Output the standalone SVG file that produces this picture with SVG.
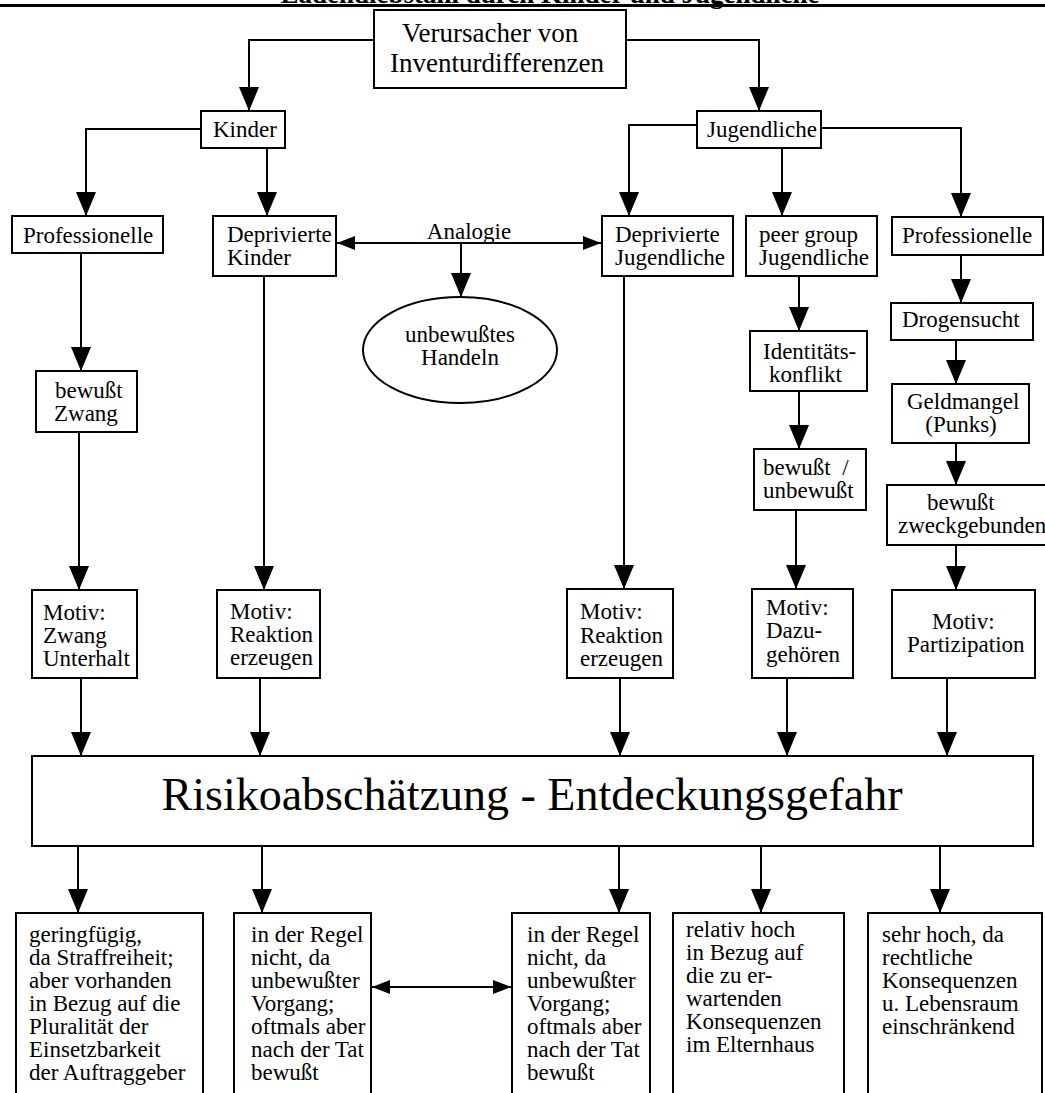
<svg xmlns="http://www.w3.org/2000/svg" width="1045" height="1093" viewBox="0 0 1045 1093">
<style>
.box{fill:#fff;stroke:#000;stroke-width:2}
.t{font-family:"Liberation Serif","Times New Roman",serif;font-size:23px;fill:#000}
.m{text-anchor:middle}
.c{stroke:#000;stroke-width:2;fill:none;marker-end:url(#ah)}
.d{stroke:#000;stroke-width:2;fill:none;marker-start:url(#as);marker-end:url(#as)}
</style>
<defs>
<marker id="ah" markerUnits="userSpaceOnUse" markerWidth="24" markerHeight="20" refX="24" refY="10" orient="auto" viewBox="0 0 24 20"><path d="M0,0 L24,10 L0,20 z" fill="#000"/></marker>
<marker id="as" markerUnits="userSpaceOnUse" markerWidth="18" markerHeight="14" refX="18" refY="7" orient="auto-start-reverse" viewBox="0 0 18 14"><path d="M0,0 L18,7 L0,14 z" fill="#000"/></marker>
</defs>
<rect width="1045" height="1093" fill="#fff"/>
<text class="t m" x="550" y="3" style="font-size:27px;font-weight:bold">Ladendiebstahl durch Kinder und Jugendliche</text>
<line x1="0" y1="5.5" x2="1045" y2="5.5" stroke="#000" stroke-width="3"/>

<g id="connectors">
<path class="c" d="M374,40 H249 V111"/>
<path class="c" d="M626,40 H759 V111"/>
<path class="c" d="M201,129 H86 V216"/>
<path class="c" d="M267,148 V216"/>
<path class="c" d="M697,125 H629 V216"/>
<path class="c" d="M782,148 V216"/>
<path class="c" d="M821,128 H961 V217"/>
<path class="d" d="M337,243 H601"/>
<path class="c" d="M461,243 V297"/>
<path class="c" d="M81,253 V371"/>
<path class="c" d="M79,432 V590"/>
<path class="c" d="M264,276 V590"/>
<path class="c" d="M624,276 V589"/>
<path class="c" d="M799,276 V331"/>
<path class="c" d="M799,391 V449"/>
<path class="c" d="M796,510 V589"/>
<path class="c" d="M961,255 V303"/>
<path class="c" d="M956,340 V384"/>
<path class="c" d="M956,443 V485"/>
<path class="c" d="M956,545 V590"/>
<path class="c" d="M81,678 V756"/>
<path class="c" d="M260,678 V756"/>
<path class="c" d="M620,678 V756"/>
<path class="c" d="M787,678 V756"/>
<path class="c" d="M947,678 V756"/>
<path class="c" d="M78,846 V913"/>
<path class="c" d="M262,846 V913"/>
<path class="c" d="M619,846 V913"/>
<path class="c" d="M761,846 V913"/>
<path class="c" d="M940,846 V913"/>
<path class="d" d="M372,987 H511"/>
</g>

<g id="n-main"><rect class="box" x="374" y="10" width="252" height="78"/>
<text class="t" style="font-size:27px" x="402" y="42">Verursacher von</text>
<text class="t" style="font-size:27px" x="390" y="72">Inventurdifferenzen</text></g>

<g id="n-kinder"><rect class="box" x="201" y="111" width="84" height="37"/>
<text class="t" x="213" y="137">Kinder</text></g>

<g id="n-jugendliche"><rect class="box" x="697" y="111" width="124" height="37"/>
<text class="t" x="707" y="137">Jugendliche</text></g>

<g id="n-prof-k"><rect class="box" x="12" y="216" width="151" height="37"/>
<text class="t" x="23" y="243">Professionelle</text></g>

<g id="n-depr-k"><rect class="box" x="213" y="216" width="123" height="60"/>
<text class="t" x="227" y="242">Deprivierte</text>
<text class="t" x="227" y="265">Kinder</text></g>

<g id="n-analogie"><text class="t m" x="469" y="239">Analogie</text></g>

<g id="n-unbewusst"><ellipse class="box" cx="460" cy="350" rx="97" ry="53"/>
<text class="t m" x="460" y="342">unbewußtes</text>
<text class="t m" x="460" y="365">Handeln</text></g>

<g id="n-depr-j"><rect class="box" x="602" y="216" width="131" height="60"/>
<text class="t" x="615" y="242">Deprivierte</text>
<text class="t" x="615" y="265">Jugendliche</text></g>

<g id="n-peer"><rect class="box" x="746" y="216" width="131" height="60"/>
<text class="t" x="759" y="242">peer group</text>
<text class="t" x="759" y="265">Jugendliche</text></g>

<g id="n-prof-j"><rect class="box" x="892" y="217" width="151" height="38"/>
<text class="t" x="902" y="243">Professionelle</text></g>

<g id="n-bewusst-zwang"><rect class="box" x="36" y="371" width="101" height="61"/>
<text class="t" x="55" y="398">bewußt</text>
<text class="t" x="54" y="421">Zwang</text></g>

<g id="n-identitaet"><rect class="box" x="750" y="331" width="117" height="60"/>
<text class="t" x="763" y="359">Identitäts-</text>
<text class="t" x="769" y="382">konflikt</text></g>

<g id="n-drogen"><rect class="box" x="891" y="303" width="142" height="37"/>
<text class="t" x="902" y="327">Drogensucht</text></g>

<g id="n-geld"><rect class="box" x="892" y="384" width="137" height="59"/>
<text class="t" x="907" y="409">Geldmangel</text>
<text class="t m" x="961" y="432">(Punks)</text></g>

<g id="n-bew-unbew"><rect class="box" x="754" y="449" width="112" height="61"/>
<text class="t" x="763" y="475" xml:space="preserve">bewußt  /</text>
<text class="t" x="763" y="498">unbewußt</text></g>

<g id="n-zweck"><rect class="box" x="887" y="485" width="170" height="60"/>
<text class="t" x="927" y="510">bewußt</text>
<text class="t" x="898" y="533">zweckgebunden</text></g>

<g id="n-motiv-zwang"><rect class="box" x="32" y="590" width="105" height="88"/>
<text class="t" x="43" y="620">Motiv:</text>
<text class="t" x="43" y="643">Zwang</text>
<text class="t" x="43" y="666">Unterhalt</text></g>

<g id="n-motiv-reak-k"><rect class="box" x="217" y="590" width="103" height="88"/>
<text class="t" x="230" y="619">Motiv:</text>
<text class="t" x="230" y="642">Reaktion</text>
<text class="t" x="230" y="665">erzeugen</text></g>

<g id="n-motiv-reak-j"><rect class="box" x="567" y="589" width="106" height="89"/>
<text class="t" x="580" y="619">Motiv:</text>
<text class="t" x="580" y="643">Reaktion</text>
<text class="t" x="580" y="666">erzeugen</text></g>

<g id="n-motiv-dazu"><rect class="box" x="752" y="589" width="101" height="89"/>
<text class="t" x="766" y="615">Motiv:</text>
<text class="t" x="766" y="638">Dazu-</text>
<text class="t" x="766" y="662">gehören</text></g>

<g id="n-motiv-part"><rect class="box" x="892" y="590" width="143" height="88"/>
<text class="t" x="932" y="629">Motiv:</text>
<text class="t" x="907" y="652">Partizipation</text></g>

<g id="n-risiko"><rect class="box" x="32" y="756" width="1001" height="90"/>
<text class="t m" style="font-size:46px" x="532" y="810">Risikoabschätzung - Entdeckungsgefahr</text></g>

<g id="n-r1"><rect class="box" x="16" y="913" width="187" height="200"/>
<text class="t" x="29" y="942">geringfügig,</text>
<text class="t" x="29" y="965">da Straffreiheit;</text>
<text class="t" x="29" y="988">aber vorhanden</text>
<text class="t" x="29" y="1011">in Bezug auf die</text>
<text class="t" x="29" y="1034">Pluralität der</text>
<text class="t" x="29" y="1057">Einsetzbarkeit</text>
<text class="t" x="29" y="1080">der Auftraggeber</text></g>

<g id="n-r2"><rect class="box" x="234" y="913" width="137" height="200"/>
<text class="t" x="251" y="942">in der Regel</text>
<text class="t" x="251" y="965">nicht, da</text>
<text class="t" x="251" y="988">unbewußter</text>
<text class="t" x="251" y="1011">Vorgang;</text>
<text class="t" x="251" y="1034">oftmals aber</text>
<text class="t" x="251" y="1057">nach der Tat</text>
<text class="t" x="251" y="1080">bewußt</text></g>

<g id="n-r3"><rect class="box" x="512" y="913" width="138" height="200"/>
<text class="t" x="527" y="942">in der Regel</text>
<text class="t" x="527" y="965">nicht, da</text>
<text class="t" x="527" y="988">unbewußter</text>
<text class="t" x="527" y="1011">Vorgang;</text>
<text class="t" x="527" y="1034">oftmals aber</text>
<text class="t" x="527" y="1057">nach der Tat</text>
<text class="t" x="527" y="1080">bewußt</text></g>

<g id="n-r4"><rect class="box" x="673" y="913" width="171" height="200"/>
<text class="t" x="686" y="937">relativ hoch</text>
<text class="t" x="686" y="960">in Bezug auf</text>
<text class="t" x="686" y="983">die zu er-</text>
<text class="t" x="686" y="1006">wartenden</text>
<text class="t" x="686" y="1029">Konsequenzen</text>
<text class="t" x="686" y="1052">im Elternhaus</text></g>

<g id="n-r5"><rect class="box" x="868" y="913" width="174" height="200"/>
<text class="t" x="882" y="942">sehr hoch, da</text>
<text class="t" x="882" y="965">rechtliche</text>
<text class="t" x="882" y="988">Konsequenzen</text>
<text class="t" x="882" y="1011">u. Lebensraum</text>
<text class="t" x="882" y="1034">einschränkend</text></g>
</svg>
